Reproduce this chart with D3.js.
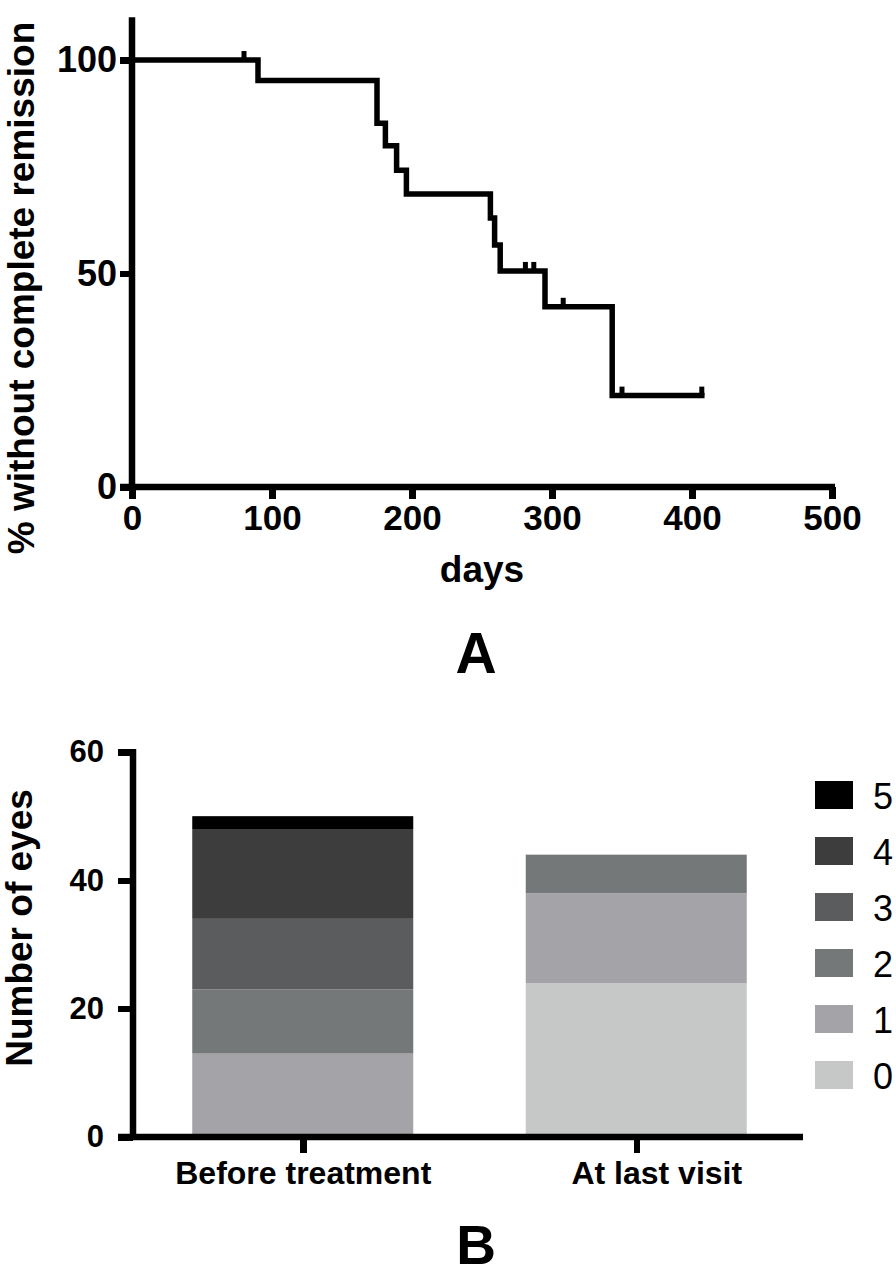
<!DOCTYPE html>
<meta charset="utf-8">
<style>
body { margin: 0; background: #fff; }
svg { font-family: "Liberation Sans", Arial, sans-serif; }
.axis path, .axis line { fill: none; stroke: #000; stroke-width: 6.5px; shape-rendering: crispEdges; }
.axis text { fill: #000; font-weight: bold; font-family: "Liberation Sans", Arial, sans-serif; }
.curve { fill: none; stroke: #000; stroke-width: 5.5px; stroke-linejoin: miter; stroke-linecap: square; }
.censor { stroke: #000; stroke-width: 5px; }
</style>
<body>
<script src="https://d3js.org/d3.v7.min.js"></script>
<script>

// panel A: time to complete remission (Kaplan-Meier)
var eventDays = [0, 90, 175, 181, 189, 196, 256, 259, 263, 295, 343];
var survival  = [100, 95.2, 85.2, 79.9, 74.2, 68.6, 63.0, 56.7, 50.6, 42.2, 21.4];
var censorDays = [80, 281, 287, 308, 350, 407];
var lastDay = 407;
var dayTicks = [0, 100, 200, 300, 400, 500];
var pctTicks = [0, 50, 100];

// panel B: grade distribution
var groups = ["Before treatment", "At last visit"];
var grades = ["0", "1", "2", "3", "4", "5"];
var beforeCounts = [0, 13, 10, 11, 14, 2];
var lastCounts   = [24, 14, 6, 0, 0, 0];
var eyeTicks = [0, 20, 40, 60];
var greys = ["#c6c7c7", "#a3a3a8", "#747878", "#5b5c5e", "#3d3d3d", "#000000"];

var svg = d3.select("body").append("svg")
    .attr("width", 896)
    .attr("height", 1276);

// ---------- A ----------
var x = d3.scaleLinear().domain([0, 500]).range([132, 832]);
var y = d3.scaleLinear().domain([0, 100]).range([487, 60]);

// axis lines (drawn by hand so they overshoot like the original)
svg.append("line")
    .attr("x1", x(0)).attr("x2", x(0))
    .attr("y1", y(110)).attr("y2", y(0) + 3)
    .attr("stroke", "#000").attr("stroke-width", 6.5);
svg.append("line")
    .attr("x1", x(0) - 12).attr("x2", x(500) + 3)
    .attr("y1", y(0)).attr("y2", y(0))
    .attr("stroke", "#000").attr("stroke-width", 6.5);

var gy = svg.append("g")
    .attr("class", "axis")
    .attr("transform", "translate(" + x(0) + ",0)")
    .call(d3.axisLeft(y).tickValues(pctTicks).tickSize(12).tickPadding(3));
gy.select(".domain").remove();
gy.selectAll("text").style("font-size", "36px");

var gx = svg.append("g")
    .attr("class", "axis")
    .attr("transform", "translate(0," + y(0) + ")")
    .call(d3.axisBottom(x).tickValues(dayTicks).tickSize(12).tickPadding(6));
gx.select(".domain").remove();
gx.selectAll("text").style("font-size", "35px");

var kmData = eventDays.map(function(d, i) { return {day: d, s: survival[i]}; });
kmData.push({day: lastDay, s: survival[survival.length - 1]});

var line = d3.line()
    .curve(d3.curveStepAfter)
    .x(function(d) { return x(d.day); })
    .y(function(d) { return y(d.s); });

svg.append("path")
    .datum(kmData)
    .attr("class", "curve")
    .attr("d", line);

// censor ticks sit on the curve at the survival value of that time
function survAt(day) {
  var s = 100;
  for (var i = 0; i < eventDays.length; i++) {
    if (eventDays[i] <= day) s = survival[i];
  }
  return s;
}

svg.selectAll(".censor")
    .data(censorDays)
  .enter().append("line")
    .attr("class", "censor")
    .attr("x1", function(d) { return x(d); })
    .attr("x2", function(d) { return x(d); })
    .attr("y1", function(d) { return y(survAt(d)) - 9; })
    .attr("y2", function(d) { return y(survAt(d)); });

svg.append("text")
    .attr("transform", "translate(34,288) rotate(-90)")
    .attr("text-anchor", "middle")
    .style("font-size", "37px")
    .style("font-weight", "bold")
    .text("% without complete remission");

svg.append("text")
    .attr("x", 482)
    .attr("y", 582)
    .attr("text-anchor", "middle")
    .style("font-size", "37px")
    .style("font-weight", "bold")
    .text("days");

svg.append("text")
    .attr("x", 476)
    .attr("y", 673)
    .attr("text-anchor", "middle")
    .style("font-size", "57px")
    .style("font-weight", "bold")
    .text("A");

// ---------- B ----------
var xb = d3.scalePoint().domain(groups).range([136, 803]).padding(0.5);
var yb = d3.scaleLinear().domain([0, 60]).range([1137, 752]);
var barWidth = 221;

var rows = groups.map(function(g, i) {
  var counts = i === 0 ? beforeCounts : lastCounts;
  var row = {group: g};
  grades.forEach(function(k, j) { row[k] = counts[j]; });
  return row;
});

var stacked = d3.stack().keys(grades)(rows);

svg.append("g").selectAll("g")
    .data(stacked)
  .enter().append("g")
    .attr("fill", function(d, i) { return greys[i]; })
  .selectAll("rect")
    .data(function(d) { return d; })
  .enter().append("rect")
    .attr("x", function(d) { return xb(d.data.group) - barWidth / 2; })
    .attr("y", function(d) { return yb(d[1]); })
    .attr("width", barWidth)
    .attr("height", function(d) { return yb(d[0]) - yb(d[1]); });

svg.append("line")
    .attr("x1", 133).attr("x2", 133)
    .attr("y1", yb(60) - 3).attr("y2", yb(0) + 3)
    .attr("stroke", "#000").attr("stroke-width", 6.5);
svg.append("line")
    .attr("x1", 118).attr("x2", 803)
    .attr("y1", yb(0)).attr("y2", yb(0))
    .attr("stroke", "#000").attr("stroke-width", 6.5);

var gyb = svg.append("g")
    .attr("class", "axis")
    .attr("transform", "translate(133,0)")
    .call(d3.axisLeft(yb).tickValues(eyeTicks).tickSize(15).tickPadding(14));
gyb.select(".domain").remove();
gyb.selectAll("text").style("font-size", "31px");

var gxb = svg.append("g")
    .attr("class", "axis")
    .attr("transform", "translate(0," + yb(0) + ")")
    .call(d3.axisBottom(xb).tickSize(16).tickPadding(8));
gxb.select(".domain").remove();
gxb.selectAll("text")
    .style("font-size", "32px")
    .attr("dx", function(d, i) { return i === 1 ? 20 : 0; });

svg.append("text")
    .attr("transform", "translate(32,928) rotate(-90)")
    .attr("text-anchor", "middle")
    .style("font-size", "37px")
    .style("font-weight", "bold")
    .text("Number of eyes");

// legend, highest grade on top
var legend = svg.append("g").selectAll("g")
    .data(grades.slice().reverse())
  .enter().append("g")
    .attr("transform", function(d, i) { return "translate(815," + (781 + i * 56) + ")"; });

legend.append("rect")
    .attr("width", 38)
    .attr("height", 28)
    .attr("fill", function(d) { return greys[grades.indexOf(d)]; });

legend.append("text")
    .attr("x", 58)
    .attr("y", 28)
    .style("font-size", "36px")
    .text(function(d) { return d; });

svg.append("text")
    .attr("x", 476)
    .attr("y", 1264)
    .attr("text-anchor", "middle")
    .style("font-size", "55px")
    .style("font-weight", "bold")
    .text("B");

</script>
